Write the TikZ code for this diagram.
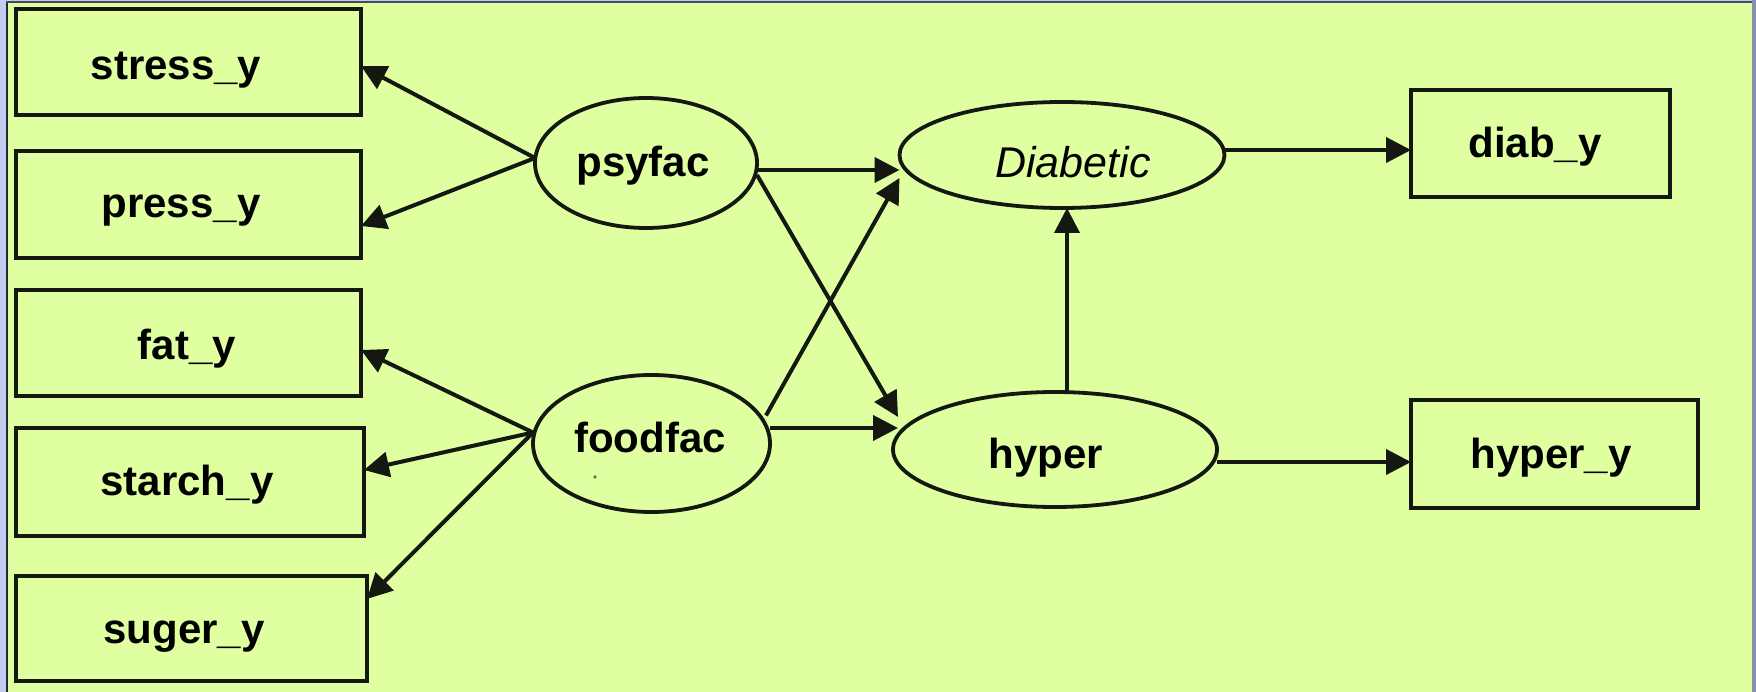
\documentclass[tikz,border=0pt]{standalone}
\usepackage{fontspec}
\setmainfont{Liberation Sans}
\usetikzlibrary{shapes.geometric,arrows.meta}

\definecolor{panel}{RGB}{224,255,160}
\definecolor{frameblue}{RGB}{196,204,240}
\definecolor{framedark}{RGB}{40,40,56}
\definecolor{frameright}{RGB}{136,144,176}
\definecolor{ink}{RGB}{20,24,16}

\tikzset{
  obsbox/.style={draw=ink, line width=4pt, rectangle, inner sep=0pt, outer sep=0pt},
  latent/.style={draw=ink, line width=3.8pt, ellipse, inner sep=0pt, outer sep=0pt},
  lbl/.style={anchor=base, inner sep=0pt, font=\fontsize{42}{50}\selectfont\bfseries},
  ilbl/.style={anchor=base, inner sep=0pt, font=\fontsize{43}{50}\selectfont\itshape},
  arr/.style={draw=ink, line width=4pt, -{Triangle[length=25pt,width=25pt]}}
}

\begin{document}
\begin{tikzpicture}[x=1pt,y=-1pt]
% canvas and window frame
\useasboundingbox (0,0) rectangle (1756,692);
\fill[panel] (0,0) rectangle (1756,692);
\fill[frameblue] (0,0) rectangle (6,692);
\fill[framedark] (6,3) rectangle (8,692);
\fill[frameblue] (0,0) rectangle (1756,1);
\fill[framedark!80!frameblue] (6,1) rectangle (1752,3.5);
\fill[frameright] (1752,0) rectangle (1756,692);

% observed indicators (left)
\node[obsbox, minimum width=345pt, minimum height=106pt] (stress) at (188.5,62) {};
\node[obsbox, minimum width=345pt, minimum height=107pt] (press)  at (188.5,204.5) {};
\node[obsbox, minimum width=345pt, minimum height=106pt] (fat)    at (188.5,343) {};
\node[obsbox, minimum width=348pt, minimum height=108pt] (starch) at (190,482) {};
\node[obsbox, minimum width=351pt, minimum height=105pt] (suger)  at (191.5,628.5) {};

% observed indicators (right)
\node[obsbox, minimum width=259pt, minimum height=107pt] (diaby)  at (1540.5,143.5) {};
\node[obsbox, minimum width=287pt, minimum height=108pt] (hypery) at (1554.5,454) {};

% latent factors
\node[latent, minimum width=222pt, minimum height=130pt] (psy)   at (646,163) {};
\node[latent, minimum width=237pt, minimum height=137pt] (food)  at (651.5,443.5) {};
\node[latent, minimum width=325pt, minimum height=106pt] (diab)  at (1062,155) {};
\node[latent, minimum width=324pt, minimum height=115pt] (hyper) at (1055,449.5) {};

% labels
\node[lbl] (t-stress) at (176,80)  {stress\_y};
\node[lbl] (t-press)  at (181,218) {press\_y};
\node[lbl] (t-fat)    at (187,360) {fat\_y};
\node[lbl] (t-starch) at (187,495) {starch\_y};
\node[lbl] (t-suger)  at (184,643) {suger\_y};
\node[lbl] (t-diaby)  at (1535,158)  {diab\_y};
\node[lbl] (t-hypery) at (1551,468)  {hyper\_y};
\node[lbl] (t-psy)    at (643,177)   {psyfac};
\node[lbl] (t-food)   at (650,452)   {foodfac};
\node[ilbl] (t-diab)  at (1073,178)  {Diabetic};
\node[lbl] (t-hyper)  at (1046,468)  {hyper};
\fill[ink!60!panel] (595,477) circle (1.8pt);

% loadings of the latent factors
\draw[arr] ([yshift=5pt]psy.west) -- ([yshift=-4pt]stress.east);
\draw[arr] ([yshift=5pt]psy.west) -- ([yshift=-21.5pt]press.east);
\draw[arr] ([yshift=11pt]food.west) -- ([yshift=-7pt]fat.east);
\draw[arr] ([yshift=11pt]food.west) -- ([yshift=12pt]starch.east);
\draw[arr] ([yshift=11pt]food.west) -- ([yshift=29.5pt]suger.east);

% structural paths
\draw[arr] ([yshift=-7pt]psy.east) -- ([yshift=-15pt]diab.west);
\draw[arr] ([yshift=-12pt]psy.east) -- ([xshift=5pt,yshift=32.5pt]hyper.west);
\draw[arr] ([xshift=-4pt,yshift=28pt]food.east) -- ([yshift=-23pt]diab.west);
\draw[arr] ([yshift=15.5pt]food.east) -- ([xshift=5pt,yshift=21.5pt]hyper.west);
\draw[arr] ([xshift=12pt]hyper.north) -- ([xshift=5pt]diab.south);

% outcome indicators
\draw[arr] ([yshift=5pt]diab.east) -- ([yshift=-6.5pt]diaby.west);
\draw[arr] ([yshift=-12.5pt]hyper.east) -- ([yshift=-8pt]hypery.west);
\end{tikzpicture}
\end{document}
